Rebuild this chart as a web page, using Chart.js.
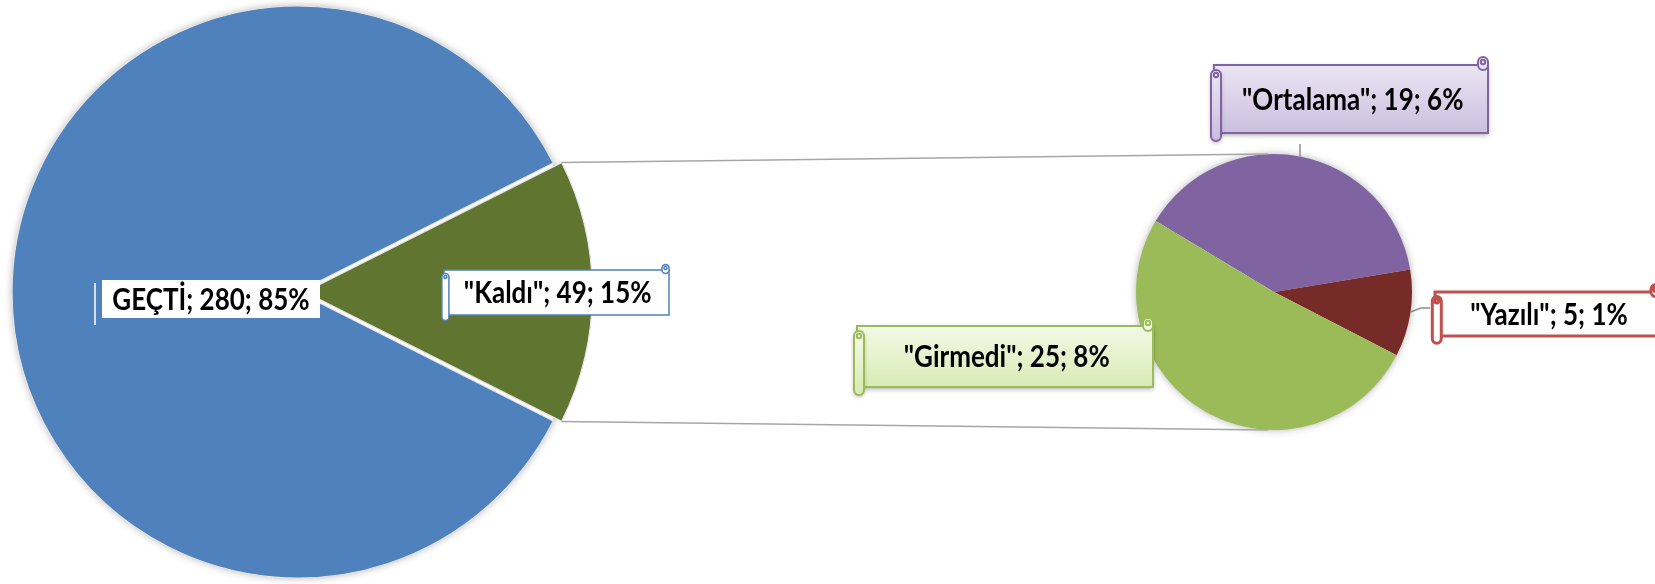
<!DOCTYPE html>
<html><head><meta charset="utf-8">
<script src="https://cdn.jsdelivr.net/npm/chart.js@4/dist/chart.umd.min.js"></script>
<style>
html,body{margin:0;padding:0;background:#fff;width:1655px;height:584px;overflow:hidden;}
canvas{position:absolute;}
</style></head><body>
<canvas id="main" width="596" height="584" style="left:0;top:0"></canvas>
<canvas id="sec" width="300" height="300" style="left:1124px;top:142px"></canvas>
<canvas id="ov" width="1655" height="584" style="left:0;top:0"></canvas>
<script>
// ---- data ----
const mainCategories = ['GEÇTİ', '"Kaldı"'];
const mainValues = [280, 49];
const mainPercents = [85, 15];
const subCategories = ['"Ortalama"', '"Yazılı"', '"Girmedi"'];
const subValues = [19, 5, 25];
const subPercents = [6, 1, 8];

// ---- styles / layout ----
const mainColors = ['#4f81bd', '#5f7530'];
const subColors = ['#8064a2', '#772b29', '#9bbb59'];
const mainLabelBoxes = [
  {x:102, y:280, w:218, h:38, kind:'plain'},
  {x:444, y:270, w:225, h:45, rw:7, fill:['#ffffff','#ffffff'], stroke:'#4f81bd', lw:1.5}
];
const subLabelBoxes = [
  {x:1214, y:65, w:274, h:68, rw:10, fill:['#ebe5f3','#cbbfe0'], stroke:'#8064a2', lw:2, shadow:true},
  {x:1435, y:292, w:225, h:44, rw:9, fill:['#ffffff','#ffffff'], stroke:'#c0504d', lw:3},
  {x:857, y:326, w:296, h:61, rw:10, fill:['#f3f9e6','#d8ebb5'], stroke:'#9bbb59', lw:2, shadow:true}
];
const FONT = 'bold 26px Lato, "Open Sans", sans-serif';
const TEXT_STRETCH = 1.14;

const shadowPlugin = {
  id:'pieShadow',
  beforeDatasetsDraw(chart){
    const a = chart.getDatasetMeta(0).data[0];
    const ctx = chart.ctx;
    ctx.save();
    ctx.shadowColor = 'rgba(0,0,0,0.38)';
    ctx.shadowBlur = 9;
    ctx.beginPath();
    ctx.arc(a.x, a.y, a.outerRadius - 1, 0, Math.PI*2);
    ctx.fillStyle = '#ffffff';
    ctx.fill();
    ctx.restore();
  }
};

const total = mainValues.reduce((s,v)=>s+v,0);
const otherSpan = mainValues[1] / total * 360;

const mainChart = new Chart(document.getElementById('main'), {
  type:'pie',
  data:{labels:mainCategories, datasets:[{data:mainValues, backgroundColor:mainColors,
        borderColor:'#e4e4e4', borderWidth:1.2, offset:[0,28]}]},
  options:{responsive:false, animation:false, events:[], radius:286,
    rotation: 90 + otherSpan/2,
    layout:{padding:0},
    plugins:{legend:{display:false}, tooltip:{enabled:false}}},
  plugins:[shadowPlugin]
});

const subChart = new Chart(document.getElementById('sec'), {
  type:'pie',
  data:{labels:subCategories, datasets:[{data:subValues, backgroundColor:subColors,
        borderColor:subColors, borderWidth:0}]},
  options:{responsive:false, animation:false, events:[], radius:138,
    rotation: 301,
    layout:{padding:0},
    plugins:{legend:{display:false}, tooltip:{enabled:false}}},
  plugins:[shadowPlugin]
});

// ---- overlay: connectors, leaders, labels ----
function canvasOffset(id){
  const c = document.getElementById(id);
  return {x: c.offsetLeft, y: c.offsetTop};
}
function rrect(ctx, x, y, w, h, r){
  ctx.beginPath();
  ctx.moveTo(x+r, y);
  ctx.lineTo(x+w-r, y); ctx.arcTo(x+w, y, x+w, y+r, r);
  ctx.lineTo(x+w, y+h-r); ctx.arcTo(x+w, y+h, x+w-r, y+h, r);
  ctx.lineTo(x+r, y+h); ctx.arcTo(x, y+h, x, y+h-r, r);
  ctx.lineTo(x, y+r); ctx.arcTo(x, y, x+r, y, r);
  ctx.closePath();
}
function drawScroll(ctx, b){
  if (b.kind === 'plain'){
    ctx.fillStyle = '#ffffff';
    ctx.fillRect(b.x, b.y, b.w, b.h);
    ctx.strokeStyle = '#ffffff';
    ctx.lineWidth = 1.5;
    ctx.beginPath();
    ctx.moveTo(b.x-7, b.y+3); ctx.lineTo(b.x-7, b.y+b.h+7);
    ctx.stroke();
    return;
  }
  const rw = b.rw;
  const grad = ctx.createLinearGradient(0, b.y, 0, b.y+b.h);
  grad.addColorStop(0, b.fill[0]); grad.addColorStop(1, b.fill[1]);
  ctx.save();
  if (b.shadow){ ctx.shadowColor='rgba(0,0,0,0.35)'; ctx.shadowBlur=5; ctx.shadowOffsetY=2; }
  ctx.fillStyle = grad;
  ctx.fillRect(b.x, b.y, b.w, b.h);
  ctx.restore();
  ctx.strokeStyle = b.stroke; ctx.lineWidth = b.lw;
  ctx.strokeRect(b.x, b.y, b.w, b.h);
  const cx = b.x + b.w - rw, cy = b.y - 0.8*rw;
  rrect(ctx, cx, cy, rw, 1.3*rw, rw/2);
  ctx.fillStyle = b.fill[0]; ctx.fill(); ctx.stroke();
  ctx.beginPath(); ctx.arc(cx + rw/2, cy + rw/2, rw*0.22, 0, Math.PI*2); ctx.stroke();
  const lx = b.x - 0.3*rw, ly = b.y + 0.5*rw;
  rrect(ctx, lx, ly, rw, b.h + 0.3*rw, rw/2);
  const g2 = ctx.createLinearGradient(0, ly, 0, ly + b.h);
  g2.addColorStop(0, b.fill[0]); g2.addColorStop(1, b.fill[1]);
  ctx.save();
  if (b.shadow){ ctx.shadowColor='rgba(0,0,0,0.3)'; ctx.shadowBlur=4; ctx.shadowOffsetY=2; }
  ctx.fillStyle = g2; ctx.fill();
  ctx.restore();
  ctx.stroke();
  ctx.beginPath(); ctx.arc(lx + rw/2, ly + rw/2, rw*0.22, 0, Math.PI*2); ctx.stroke();
}
function drawLabel(ctx, b, text){
  drawScroll(ctx, b);
  const tx = b.kind === 'plain' ? b.x + b.w/2 : b.x + 0.35*b.rw + (b.w - 0.35*b.rw)/2;
  const ty = b.y + b.h/2 + 1;
  ctx.save();
  ctx.translate(tx, ty);
  ctx.scale(1, TEXT_STRETCH);
  ctx.fillStyle = '#000';
  ctx.font = FONT;
  ctx.textAlign = 'center';
  ctx.textBaseline = 'middle';
  ctx.fillText(text, 0, 0);
  ctx.restore();
}

function drawOverlay(){
  const ctx = document.getElementById('ov').getContext('2d');
  const mo = canvasOffset('main'), so = canvasOffset('sec');
  const other = mainChart.getDatasetMeta(0).data[1];
  const off = (other.options.offset || 0) / 4;
  const half = (other.startAngle + other.endAngle) / 2;
  const fix = 1 - Math.sin(Math.min(Math.PI, other.circumference));
  const R = other.outerRadius + off*fix;
  const ox = mo.x + other.x + Math.cos(half)*off, oy = mo.y + other.y + Math.sin(half)*off;
  const p1 = {x: ox + Math.cos(other.startAngle)*R, y: oy + Math.sin(other.startAngle)*R};
  const p2 = {x: ox + Math.cos(other.endAngle)*R, y: oy + Math.sin(other.endAngle)*R};
  const s0 = subChart.getDatasetMeta(0).data[0];
  const scx = so.x + s0.x, scy = so.y + s0.y, sR = s0.outerRadius;
  ctx.strokeStyle = '#a6a6a6'; ctx.lineWidth = 1.5;
  ctx.beginPath();
  ctx.moveTo(p1.x, p1.y); ctx.lineTo(scx - 6, scy - sR);
  ctx.moveTo(p2.x, p2.y); ctx.lineTo(scx - 6, scy + sR);
  ctx.stroke();

  ctx.strokeStyle = '#8c8c8c'; ctx.lineWidth = 1.5;
  const lb = subLabelBoxes[0];
  const lxp = scx + 26;
  ctx.beginPath();
  ctx.moveTo(lxp, lb.y + lb.h + 11);
  ctx.lineTo(lxp, scy - Math.sqrt(sR*sR - 26*26));
  ctx.stroke();
  const yb = subLabelBoxes[1];
  const ang = Math.asin(20 / sR);
  ctx.beginPath();
  ctx.moveTo(scx + Math.cos(ang)*sR, scy + Math.sin(ang)*sR);
  ctx.lineTo(yb.x - 14, yb.y + 16);
  ctx.lineTo(yb.x - 5, yb.y + 16);
  ctx.stroke();

  mainLabelBoxes.forEach((b,i)=>drawLabel(ctx, b, `${mainCategories[i]}; ${mainValues[i]}; ${mainPercents[i]}%`));
  subLabelBoxes.forEach((b,i)=>drawLabel(ctx, b, `${subCategories[i]}; ${subValues[i]}; ${subPercents[i]}%`));
}
drawOverlay();
</script>
</body></html>
